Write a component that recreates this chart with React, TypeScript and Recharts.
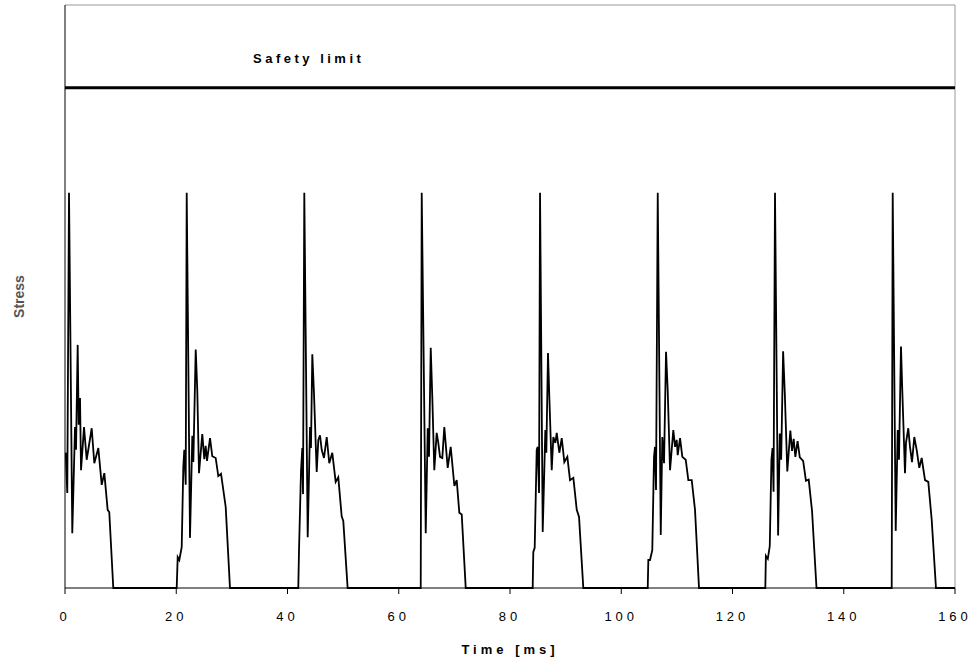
import React from 'react';
import { LineChart, Line, XAxis, YAxis, ReferenceLine } from 'recharts';

// time [ms], stress (relative units, 0..100 of the plot height)
const pulse1: [number, number][] = [
  [0, 22.5], [0.13, 23.2], [0.41, 16.3], [0.72, 67.8], [1.31, 9.4], [1.8, 27.6], [1.98, 23.7],
  [2.28, 41.7], [2.46, 28], [2.7, 32.6], [2.88, 20.2], [3.42, 27.6], [3.9, 22], [4.8, 27.4],
  [5.27, 21.4], [5.99, 24], [6.6, 17.7], [7.07, 19.7], [7.67, 13.4], [7.96, 13], [8.68, 0],
];
const pulse2: [number, number][] = [
  [20.08, 0], [20.26, 5.3], [20.55, 4.8], [20.98, 7.0], [21.27, 20.8], [21.45, 23.7], [21.7, 17.7],
  [21.88, 67.8], [22.47, 8.6], [22.89, 26.1], [23.07, 21.6], [23.5, 40.9], [23.78, 34], [24.09, 19.7],
  [24.68, 26.4], [25.04, 22.1], [25.29, 24.4], [25.53, 21.8], [26.07, 25.7], [26.48, 22.6],
  [27.09, 22.3], [27.56, 19.2], [28.05, 19.6], [28.89, 13.9], [29.66, 0],
];
const pulse3: [number, number][] = [
  [41.94, 0], [42.07, 6.5], [42.43, 20.1], [42.66, 24.0], [42.79, 16.1], [43.02, 67.8], [43.63, 8.7],
  [44.05, 27.6], [44.22, 24.0], [44.46, 40.1], [44.76, 33.4], [45.25, 19.9], [45.54, 25.4],
  [45.84, 26.2], [46.15, 23.7], [46.56, 22.3], [47.05, 25.9], [47.51, 21.4], [48.05, 23.2],
  [48.66, 18.2], [49.13, 19.0], [49.74, 12.3], [50.03, 11.5], [50.81, 0],
];
const pulse4: [number, number][] = [
  [63.95, 0], [64.13, 67.8], [64.85, 9.4], [65.21, 27.4], [65.44, 22.5], [65.75, 41.2], [66.03, 32.8],
  [66.39, 20.2], [66.82, 26.6], [67.11, 24.9], [67.42, 22.5], [67.83, 22.3], [68.19, 27.6],
  [68.8, 20.6], [69.34, 24.2], [70.0, 17.5], [70.42, 18.5], [70.89, 12.9], [71.32, 12.6], [72.04, 0],
];
const pulse5: [number, number][] = [
  [84.08, 0], [84.19, 6.2], [84.44, 6.9], [84.8, 23.7], [84.98, 24.2], [85.22, 16.3], [85.4, 67.8],
  [85.88, 9.6], [86.35, 27.1], [86.53, 23.2], [86.83, 40.3], [87.07, 32.8], [87.5, 20.2],
  [87.79, 25.9], [88.15, 24.9], [88.4, 26.6], [88.87, 23.2], [89.3, 25.7], [89.77, 21.6],
  [90.31, 22.5], [90.79, 18.5], [91.39, 18.9], [92.0, 13.4], [92.41, 12.2], [93.18, 0],
];
const pulse6: [number, number][] = [
  [104.76, 0], [104.87, 4.8], [105.17, 4.8], [105.58, 6.5], [105.89, 22.5], [106.07, 24.2],
  [106.25, 16.8], [106.56, 67.8], [107.1, 9.1], [107.38, 25.9], [107.69, 21.4], [108.05, 40.5],
  [108.35, 34], [108.77, 20.2], [109.36, 27.1], [109.67, 24.2], [109.97, 25.4], [110.15, 22.8],
  [110.57, 25.7], [110.98, 22.5], [111.59, 22.0], [112.06, 18.5], [112.67, 18.5], [113.26, 13.4],
  [113.98, 0],
];
const pulse7: [number, number][] = [
  [125.9, 0], [126.0, 5.5], [126.35, 5.0], [126.7, 7.2], [127.0, 22.0], [127.2, 24.0], [127.38, 16.5],
  [127.64, 67.8], [128.2, 9.0], [128.5, 26.5], [128.75, 22.0], [129.1, 40.6], [129.4, 33.5],
  [129.85, 20.0], [130.4, 27.0], [130.7, 23.5], [131.0, 25.6], [131.3, 22.5], [131.7, 25.2],
  [132.1, 22.4], [132.7, 21.8], [133.2, 18.4], [133.7, 18.6], [134.3, 13.2], [135.1, 0],
];
const pulse8: [number, number][] = [
  [148.62, 0], [148.8, 67.8], [149.34, 9.8], [149.7, 27.1], [149.93, 22.0], [150.29, 41.4],
  [150.52, 34.0], [151.01, 19.7], [151.19, 24.9], [151.6, 27.4], [151.91, 24.2], [152.27, 21.6],
  [152.68, 25.9], [153.11, 23.7], [153.58, 20.6], [154.01, 22.3], [154.61, 18.5], [155.2, 18.2],
  [155.81, 11.7], [156.58, 0], [160, 0],
];

const safetyLimit = 85.8;
const xTicks = [0, 20, 40, 60, 80, 100, 120, 140, 160];

const data = [pulse1, pulse2, pulse3, pulse4, pulse5, pulse6, pulse7, pulse8]
  .flat()
  .map(([t, s]) => ({ t, s }));

const FONT = '"Liberation Sans", Arial, sans-serif';

const SafetyLabel = (props: any) => {
  const vb = props.viewBox || { x: 65, y: 88 };
  return (
    <text
      x={vb.x + 188}
      y={vb.y - 25}
      fontFamily={FONT}
      fontSize={13}
      fontWeight="bold"
      letterSpacing={3.5}
      fill="#000"
    >
      Safety limit
    </text>
  );
};

const StressLabel = (props: any) => {
  const vb = props.viewBox || { x: 0, y: 5, width: 65, height: 583 };
  const cx = vb.x + 19;
  const cy = vb.y + vb.height / 2;
  return (
    <text
      x={cx}
      y={cy}
      transform={`rotate(-90, ${cx}, ${cy})`}
      textAnchor="middle"
      dominantBaseline="central"
      fontFamily={FONT}
      fontSize={14}
      fontWeight="bold"
      fill="#555"
    >
      Stress
    </text>
  );
};

export default function App() {
  return (
    <div style={{ position: 'absolute', left: 0, top: 0, background: '#fff' }}>
      <LineChart width={979} height={668} data={data} margin={{ top: 5, right: 24, left: 0, bottom: 0 }}>
        <XAxis
          dataKey="t"
          type="number"
          domain={[0, 160]}
          ticks={xTicks}
          allowDataOverflow
          stroke="#000"
          tickSize={6}
          tickMargin={18}
          height={80}
          tick={{ fill: '#000', fontSize: 13, fontFamily: FONT, letterSpacing: 4 }}
          label={{
            value: 'Time [ms]',
            position: 'insideBottom',
            offset: 14,
            fill: '#000',
            fontSize: 13,
            fontWeight: 'bold',
            fontFamily: FONT,
            letterSpacing: 4,
          }}
        />
        <YAxis
          type="number"
          domain={[0, 100]}
          width={65}
          tick={false}
          tickLine={false}
          stroke="#000"
          label={StressLabel}
        />
        <ReferenceLine y={100} stroke="#999" strokeWidth={1} />
        <ReferenceLine x={160} stroke="#999" strokeWidth={1} />
        <ReferenceLine y={safetyLimit} stroke="#000" strokeWidth={3} label={SafetyLabel} />
        <Line
          type="linear"
          dataKey="s"
          stroke="#000"
          strokeWidth={1.8}
          dot={false}
          activeDot={false}
          isAnimationActive={false}
        />
      </LineChart>
    </div>
  );
}
